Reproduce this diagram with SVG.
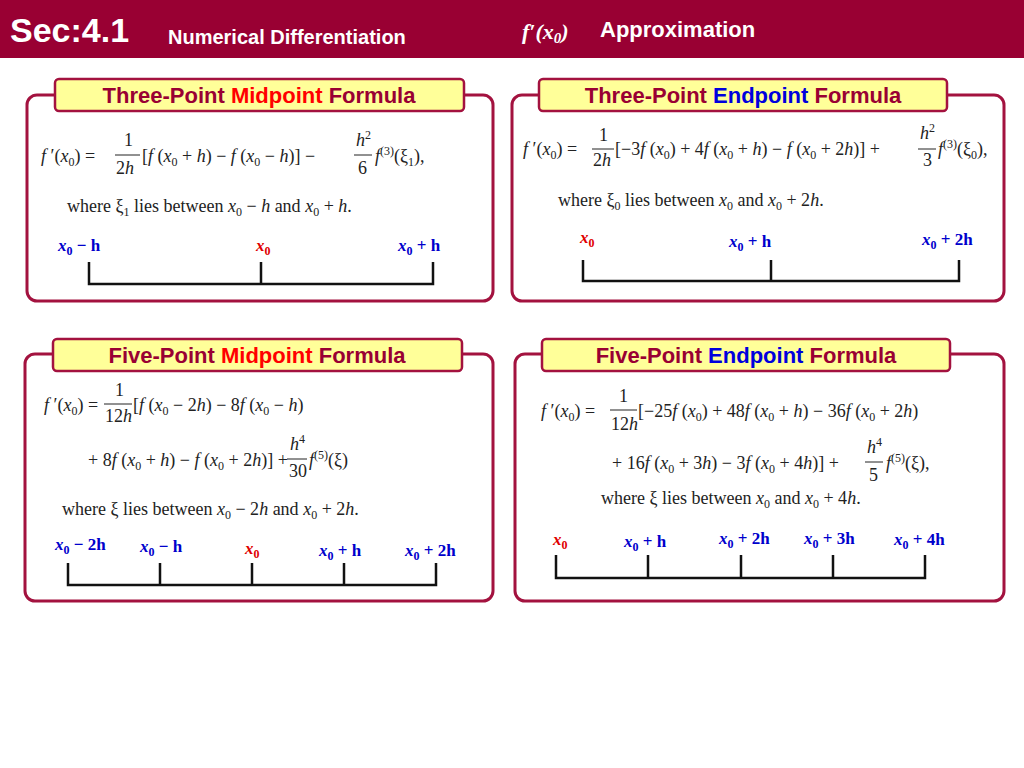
<svg xmlns="http://www.w3.org/2000/svg" width="1024" height="768" viewBox="0 0 1024 768">
<style>
.panel{fill:#fff;stroke:#a3123f;stroke-width:3}
.tbox{fill:#ffff99;stroke:#a3123f;stroke-width:2.5}
.title{font-family:"Liberation Sans",Arial,sans-serif;font-weight:bold;font-size:22px;fill:#990033;text-anchor:middle}
.hl{fill:#ff0000}.hb{fill:#0000dd}
.m{font-family:"Liberation Serif","Times New Roman",serif;font-size:18px;fill:#222}
.i{font-style:italic}
.s{font-size:12px}
.lab{font-family:"Liberation Serif",serif;font-weight:bold;font-style:italic;font-size:17px;fill:#0000cc}
.lab .n{font-style:normal}
.red{fill:#e00000}
.nl{stroke:#111;stroke-width:2.5;fill:none}
</style>
<rect x="0" y="0" width="1024" height="58" fill="#990033"/>
<text x="10" y="42" font-family="Liberation Sans,Arial,sans-serif" font-weight="bold" font-size="34" fill="#fff">Sec:4.1</text>
<text x="168" y="44" font-family="Liberation Sans,Arial,sans-serif" font-weight="bold" font-size="20" fill="#fff">Numerical Differentiation</text>
<text x="522" y="39" font-family="Liberation Serif,serif" font-style="italic" font-weight="bold" font-size="22" fill="#fff">f′(x<tspan font-size="15" dy="4">0</tspan><tspan dy="-4">)</tspan></text>
<text x="600" y="37" font-family="Liberation Sans,Arial,sans-serif" font-weight="bold" font-size="22" fill="#fff">Approximation</text>

<g id="p1">
<rect class="panel" x="27" y="95" width="466" height="206" rx="10"/>
<rect class="tbox" x="55" y="79" width="409" height="32" rx="4"/>
<text class="title" x="259" y="103">Three-Point <tspan class="hl">Midpoint</tspan> Formula</text>
<text class="m" x="41" y="162"><tspan class="i">f</tspan> ′(<tspan class="i">x</tspan><tspan class="s" dy="4">0</tspan><tspan dy="-4">) =</tspan></text>
<text class="m" x="124" y="146">1</text><line x1="115" y1="155" x2="140" y2="155" stroke="#222"/><text class="m" x="116" y="174">2<tspan class="i">h</tspan></text>
<text class="m" x="142" y="162">[<tspan class="i">f</tspan> (<tspan class="i">x</tspan><tspan class="s" dy="4">0</tspan><tspan dy="-4"> + </tspan><tspan class="i">h</tspan>) − <tspan class="i">f</tspan> (<tspan class="i">x</tspan><tspan class="s" dy="4">0</tspan><tspan dy="-4"> − </tspan><tspan class="i">h</tspan>)] −</text>
<text class="m" x="356" y="146"><tspan class="i">h</tspan><tspan class="s" dy="-7">2</tspan></text><line x1="354" y1="155" x2="372" y2="155" stroke="#222"/><text class="m" x="358" y="174">6</text>
<text class="m" x="375" y="162"><tspan class="i">f</tspan><tspan class="s" dy="-7">(3)</tspan><tspan dy="7">(ξ</tspan><tspan class="s" dy="4">1</tspan><tspan dy="-4">),</tspan></text>
<text class="m" x="67" y="212">where ξ<tspan class="s" dy="4">1</tspan><tspan dy="-4"> lies between </tspan><tspan class="i">x</tspan><tspan class="s" dy="4">0</tspan><tspan dy="-4"> − </tspan><tspan class="i">h</tspan> and <tspan class="i">x</tspan><tspan class="s" dy="4">0</tspan><tspan dy="-4"> + </tspan><tspan class="i">h</tspan>.</text>
<text class="lab" x="58" y="251">x<tspan class="s n" dy="4">0</tspan><tspan class="n" dy="-4"> − h</tspan></text>
<text class="lab red" x="256" y="251">x<tspan class="s n" dy="4">0</tspan></text>
<text class="lab" x="398" y="251">x<tspan class="s n" dy="4">0</tspan><tspan class="n" dy="-4"> + h</tspan></text>
<path class="nl" d="M89 262V284H433V262M261 262V284"/>
</g>

<g id="p2">
<rect class="panel" x="512" y="95" width="492" height="206" rx="10"/>
<rect class="tbox" x="539" y="79" width="408" height="32" rx="4"/>
<text class="title" x="743" y="103">Three-Point <tspan class="hb">Endpoint</tspan> Formula</text>
<text class="m" x="523" y="155" font-size="16"><tspan class="i">f</tspan> ′(<tspan class="i">x</tspan><tspan class="s" dy="4">0</tspan><tspan dy="-4">) =</tspan></text>
<text class="m" x="599" y="141" font-size="16">1</text><line x1="592" y1="149" x2="614" y2="149" stroke="#222"/><text class="m" x="593" y="166" font-size="16">2<tspan class="i">h</tspan></text>
<text class="m" x="615" y="155" font-size="16">[−3<tspan class="i">f</tspan> (<tspan class="i">x</tspan><tspan class="s" dy="4">0</tspan><tspan dy="-4">) + 4</tspan><tspan class="i">f</tspan> (<tspan class="i">x</tspan><tspan class="s" dy="4">0</tspan><tspan dy="-4"> + </tspan><tspan class="i">h</tspan>) − <tspan class="i">f</tspan> (<tspan class="i">x</tspan><tspan class="s" dy="4">0</tspan><tspan dy="-4"> + 2</tspan><tspan class="i">h</tspan>)] +</text>
<text class="m" x="920" y="139" font-size="16"><tspan class="i">h</tspan><tspan class="s" dy="-7">2</tspan></text><line x1="918" y1="149" x2="936" y2="149" stroke="#222"/><text class="m" x="923" y="166" font-size="16">3</text>
<text class="m" x="938" y="155" font-size="16"><tspan class="i">f</tspan><tspan class="s" dy="-7">(3)</tspan><tspan dy="7">(ξ</tspan><tspan class="s" dy="4">0</tspan><tspan dy="-4">),</tspan></text>
<text class="m" x="558" y="206">where ξ<tspan class="s" dy="4">0</tspan><tspan dy="-4"> lies between </tspan><tspan class="i">x</tspan><tspan class="s" dy="4">0</tspan><tspan dy="-4"> and </tspan><tspan class="i">x</tspan><tspan class="s" dy="4">0</tspan><tspan dy="-4"> + 2</tspan><tspan class="i">h</tspan>.</text>
<text class="lab red" x="580" y="243">x<tspan class="s n" dy="4">0</tspan></text>
<text class="lab" x="729" y="247">x<tspan class="s n" dy="4">0</tspan><tspan class="n" dy="-4"> + h</tspan></text>
<text class="lab" x="922" y="245">x<tspan class="s n" dy="4">0</tspan><tspan class="n" dy="-4"> + 2h</tspan></text>
<path class="nl" d="M583 260V281H959V260M771 260V281"/>
</g>

<g id="p3">
<rect class="panel" x="25" y="354" width="468" height="247" rx="10"/>
<rect class="tbox" x="53" y="339" width="409" height="32" rx="4"/>
<text class="title" x="257" y="363">Five-Point <tspan class="hl">Midpoint</tspan> Formula</text>
<text class="m" x="44" y="411" font-size="16"><tspan class="i">f</tspan> ′(<tspan class="i">x</tspan><tspan class="s" dy="4">0</tspan><tspan dy="-4">) =</tspan></text>
<text class="m" x="115" y="396" font-size="16">1</text><line x1="104" y1="404" x2="132" y2="404" stroke="#222"/><text class="m" x="105" y="422" font-size="16">12<tspan class="i">h</tspan></text>
<text class="m" x="133" y="411" font-size="16">[<tspan class="i">f</tspan> (<tspan class="i">x</tspan><tspan class="s" dy="4">0</tspan><tspan dy="-4"> − 2</tspan><tspan class="i">h</tspan>) − 8<tspan class="i">f</tspan> (<tspan class="i">x</tspan><tspan class="s" dy="4">0</tspan><tspan dy="-4"> − </tspan><tspan class="i">h</tspan>)</text>
<text class="m" x="88" y="466" font-size="16">+ 8<tspan class="i">f</tspan> (<tspan class="i">x</tspan><tspan class="s" dy="4">0</tspan><tspan dy="-4"> + </tspan><tspan class="i">h</tspan>) − <tspan class="i">f</tspan> (<tspan class="i">x</tspan><tspan class="s" dy="4">0</tspan><tspan dy="-4"> + 2</tspan><tspan class="i">h</tspan>)] +</text>
<text class="m" x="290" y="450" font-size="16"><tspan class="i">h</tspan><tspan class="s" dy="-7">4</tspan></text><line x1="287" y1="459" x2="307" y2="459" stroke="#222"/><text class="m" x="289" y="477" font-size="16">30</text>
<text class="m" x="309" y="466" font-size="16"><tspan class="i">f</tspan><tspan class="s" dy="-7">(5)</tspan><tspan dy="7">(ξ)</tspan></text>
<text class="m" x="62" y="515" font-size="15">where ξ lies between <tspan class="i">x</tspan><tspan class="s" dy="4">0</tspan><tspan dy="-4"> − 2</tspan><tspan class="i">h</tspan> and <tspan class="i">x</tspan><tspan class="s" dy="4">0</tspan><tspan dy="-4"> + 2</tspan><tspan class="i">h</tspan>.</text>
<text class="lab" x="55" y="550" font-size="15">x<tspan class="s n" dy="4">0</tspan><tspan class="n" dy="-4"> − 2h</tspan></text>
<text class="lab" x="140" y="552" font-size="15">x<tspan class="s n" dy="4">0</tspan><tspan class="n" dy="-4"> − h</tspan></text>
<text class="lab red" x="245" y="554" font-size="15">x<tspan class="s n" dy="4">0</tspan></text>
<text class="lab" x="319" y="556" font-size="15">x<tspan class="s n" dy="4">0</tspan><tspan class="n" dy="-4"> + h</tspan></text>
<text class="lab" x="405" y="556" font-size="15">x<tspan class="s n" dy="4">0</tspan><tspan class="n" dy="-4"> + 2h</tspan></text>
<path class="nl" d="M68 563V585H436V563M160 563V585M252 563V585M344 563V585"/>
</g>

<g id="p4">
<rect class="panel" x="515" y="354" width="489" height="247" rx="10"/>
<rect class="tbox" x="542" y="339" width="408" height="32" rx="4"/>
<text class="title" x="746" y="363">Five-Point <tspan class="hb">Endpoint</tspan> Formula</text>
<text class="m" x="541" y="417" font-size="16"><tspan class="i">f</tspan> ′(<tspan class="i">x</tspan><tspan class="s" dy="4">0</tspan><tspan dy="-4">) =</tspan></text>
<text class="m" x="619" y="402" font-size="16">1</text><line x1="610" y1="410" x2="637" y2="410" stroke="#222"/><text class="m" x="611" y="430" font-size="16">12<tspan class="i">h</tspan></text>
<text class="m" x="638" y="417" font-size="16">[−25<tspan class="i">f</tspan> (<tspan class="i">x</tspan><tspan class="s" dy="4">0</tspan><tspan dy="-4">) + 48</tspan><tspan class="i">f</tspan> (<tspan class="i">x</tspan><tspan class="s" dy="4">0</tspan><tspan dy="-4"> + </tspan><tspan class="i">h</tspan>) − 36<tspan class="i">f</tspan> (<tspan class="i">x</tspan><tspan class="s" dy="4">0</tspan><tspan dy="-4"> + 2</tspan><tspan class="i">h</tspan>)</text>
<text class="m" x="612" y="469" font-size="16">+ 16<tspan class="i">f</tspan> (<tspan class="i">x</tspan><tspan class="s" dy="4">0</tspan><tspan dy="-4"> + 3</tspan><tspan class="i">h</tspan>) − 3<tspan class="i">f</tspan> (<tspan class="i">x</tspan><tspan class="s" dy="4">0</tspan><tspan dy="-4"> + 4</tspan><tspan class="i">h</tspan>)] +</text>
<text class="m" x="867" y="453" font-size="16"><tspan class="i">h</tspan><tspan class="s" dy="-7">4</tspan></text><line x1="865" y1="462" x2="883" y2="462" stroke="#222"/><text class="m" x="869" y="481" font-size="16">5</text>
<text class="m" x="886" y="469" font-size="16"><tspan class="i">f</tspan><tspan class="s" dy="-7">(5)</tspan><tspan dy="7">(ξ),</tspan></text>
<text class="m" x="601" y="504" font-size="15">where ξ lies between <tspan class="i">x</tspan><tspan class="s" dy="4">0</tspan><tspan dy="-4"> and </tspan><tspan class="i">x</tspan><tspan class="s" dy="4">0</tspan><tspan dy="-4"> + 4</tspan><tspan class="i">h</tspan>.</text>
<text class="lab red" x="553" y="545" font-size="15">x<tspan class="s n" dy="4">0</tspan></text>
<text class="lab" x="624" y="547" font-size="15">x<tspan class="s n" dy="4">0</tspan><tspan class="n" dy="-4"> + h</tspan></text>
<text class="lab" x="719" y="544" font-size="15">x<tspan class="s n" dy="4">0</tspan><tspan class="n" dy="-4"> + 2h</tspan></text>
<text class="lab" x="804" y="544" font-size="15">x<tspan class="s n" dy="4">0</tspan><tspan class="n" dy="-4"> + 3h</tspan></text>
<text class="lab" x="894" y="545" font-size="15">x<tspan class="s n" dy="4">0</tspan><tspan class="n" dy="-4"> + 4h</tspan></text>
<path class="nl" d="M556 555V578H925V555M648 555V578M741 555V578M833 555V578"/>
</g>
</svg>
